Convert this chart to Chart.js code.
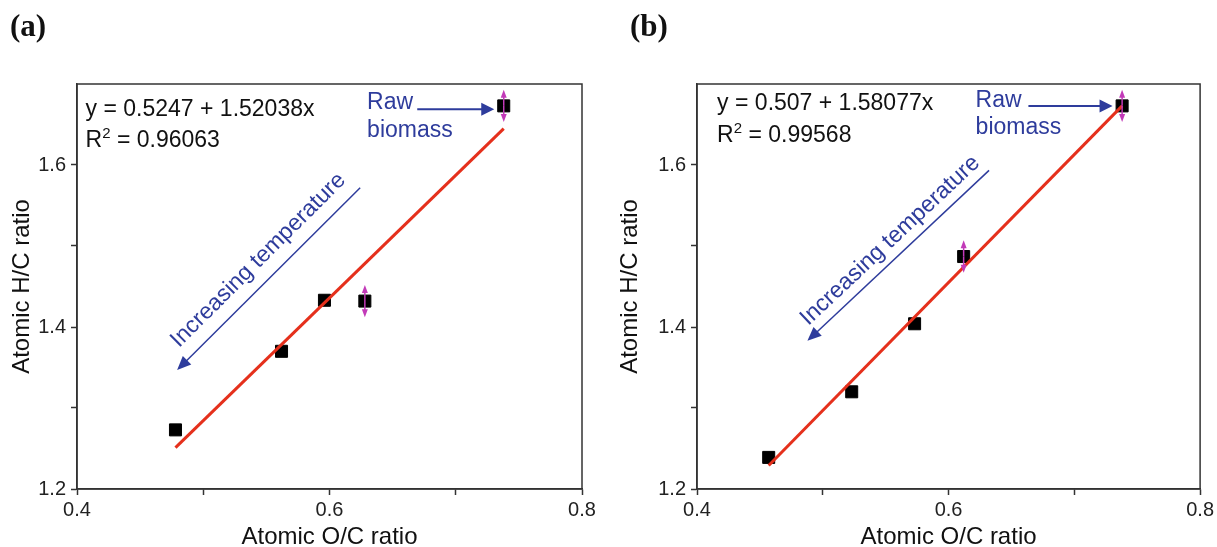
<!DOCTYPE html>
<html>
<head>
<meta charset="utf-8">
<script src="https://cdn.jsdelivr.net/npm/chart.js@4.4.1/dist/chart.umd.min.js"></script>
<style>
  body { margin: 0; background: #fff; }
  #wrap { position: relative; width: 1217px; height: 547px; }
  canvas { position: absolute; top: 0; }
  #chartA { left: 0; }
  #chartB { left: 608px; }
</style>
</head>
<body>
<div id="wrap">
  <canvas id="chartA" width="608" height="547"></canvas>
  <canvas id="chartB" width="609" height="547"></canvas>
</div>
<script>
// panel (a)
const aOC = [0.478, 0.562, 0.596, 0.628, 0.738];
const aHC = [1.273, 1.370, 1.433, 1.432, 1.673];
const aErr = [0, 0, 0, 0.020, 0.020];
const aFitOC = [0.478, 0.738];
const aFitHC = [1.251, 1.645];

// panel (b)
const bOC = [0.457, 0.523, 0.573, 0.612, 0.738];
const bHC = [1.239, 1.320, 1.404, 1.487, 1.673];
const bErr = [0, 0, 0, 0.020, 0.020];
const bFitOC = [0.457, 0.738];
const bFitHC = [1.229, 1.673];

const xTickLabels = [0.4, 0.6, 0.8];
const yTickLabels = [1.2, 1.4, 1.6];

const FONT = '"Liberation Sans", Arial, sans-serif';
const BLUE = '#2e3c9c';
const RED = '#e5301c';
const MAGENTA = '#c23ab8';
const AXIS = '#333';

Chart.defaults.font.family = FONT;

// annotation placement, in data units
const notesA = {
    label: '(a)', labelX: 10,
    eq: 'y = 0.5247 + 1.52038x', r2: '0.96063',
    eqAt: [0.4068, 1.6604], r2At: [0.4068, 1.6222],
    rawAt: [0.6298, 1.6687], bioAt: [0.6298, 1.6345],
    rawArrow: [0.6695, 1.6687, 0.7305, 1.6687],
    tempArrow: [0.6243, 1.5720, 0.4793, 1.3468],
    tempAt: [0.5436, 1.4824],
};
const notesB = {
    label: '(b)', labelX: 22,
    eq: 'y = 0.507 + 1.58077x', r2: '0.99568',
    eqAt: [0.4160, 1.6674], r2At: [0.4160, 1.6284],
    rawAt: [0.6215, 1.6719], bioAt: [0.6215, 1.6378],
    rawArrow: [0.6635, 1.6728, 0.7304, 1.6728],
    tempArrow: [0.6322, 1.5934, 0.4878, 1.3829],
    tempAt: [0.5536, 1.5067],
};

const isLabelled = (list, v) => list.some((t) => Math.abs(t - v) < 1e-6);

const drawArrow = (ctx, x1, y1, x2, y2, head, half, lw, color) => {
    const a = Math.atan2(y2 - y1, x2 - x1);
    const c = Math.cos(a);
    const s = Math.sin(a);
    ctx.strokeStyle = color;
    ctx.fillStyle = color;
    ctx.lineWidth = lw;
    ctx.beginPath();
    ctx.moveTo(x1, y1);
    ctx.lineTo(x2 - head * 0.8 * c, y2 - head * 0.8 * s);
    ctx.stroke();
    ctx.beginPath();
    ctx.moveTo(x2, y2);
    ctx.lineTo(x2 - head * c + half * s, y2 - head * s - half * c);
    ctx.lineTo(x2 - head * c - half * s, y2 - head * s + half * c);
    ctx.closePath();
    ctx.fill();
};

const makeOverlay = (notes, xs, ys, errs) => ({
    id: 'overlay',
    afterDatasetsDraw(chart) {
        const { ctx, chartArea: area, scales: { x, y } } = chart;
        const px = (v) => x.getPixelForValue(v);
        const py = (v) => y.getPixelForValue(v);
        ctx.save();

        // box frame
        ctx.strokeStyle = AXIS;
        ctx.lineWidth = 1.5;
        ctx.strokeRect(area.left, area.top, area.width, area.height);

        // error bars as double arrows
        xs.forEach((v, i) => {
            if (!errs[i]) return;
            const cx = px(v);
            const cy = py(ys[i]);
            drawArrow(ctx, cx, cy, cx, py(ys[i] + errs[i]), 8, 3, 1.5, MAGENTA);
            drawArrow(ctx, cx, cy, cx, py(ys[i] - errs[i]), 8, 3, 1.5, MAGENTA);
        });

        // equation and R squared
        ctx.fillStyle = '#111';
        ctx.font = `23px ${FONT}`;
        ctx.textAlign = 'left';
        ctx.textBaseline = 'alphabetic';
        ctx.fillText(notes.eq, px(notes.eqAt[0]), py(notes.eqAt[1]));
        let rx = px(notes.r2At[0]);
        const ry = py(notes.r2At[1]);
        ctx.fillText('R', rx, ry);
        rx += ctx.measureText('R').width;
        ctx.font = `15px ${FONT}`;
        ctx.fillText('2', rx, ry - 9);
        rx += ctx.measureText('2').width;
        ctx.font = `23px ${FONT}`;
        ctx.fillText(` = ${notes.r2}`, rx, ry);

        // raw biomass
        ctx.fillStyle = BLUE;
        ctx.fillText('Raw', px(notes.rawAt[0]), py(notes.rawAt[1]));
        ctx.fillText('biomass', px(notes.bioAt[0]), py(notes.bioAt[1]));
        const r = notes.rawArrow;
        drawArrow(ctx, px(r[0]), py(r[1]), px(r[2]), py(r[3]), 13, 6.5, 2, BLUE);

        // increasing temperature
        const t = notes.tempArrow;
        const tx1 = px(t[0]), ty1 = py(t[1]), tx2 = px(t[2]), ty2 = py(t[3]);
        drawArrow(ctx, tx1, ty1, tx2, ty2, 14, 6, 1.5, BLUE);
        const ang = Math.atan2(ty1 - ty2, tx1 - tx2);
        ctx.save();
        ctx.translate(px(notes.tempAt[0]), py(notes.tempAt[1]));
        ctx.rotate(ang);
        ctx.fillStyle = BLUE;
        ctx.font = `23px ${FONT}`;
        ctx.textAlign = 'center';
        ctx.textBaseline = 'middle';
        ctx.fillText('Increasing temperature', 0, 0);
        ctx.restore();

        // panel label
        ctx.fillStyle = '#111';
        ctx.font = `bold 31px "Liberation Serif", "Times New Roman", serif`;
        ctx.textAlign = 'left';
        ctx.textBaseline = 'alphabetic';
        ctx.fillText(notes.label, notes.labelX, 36);

        ctx.restore();
    },
});

const makeChart = (id, xs, ys, errs, fitX, fitY, notes, axisW, padRight) => {
    const points = xs.map((v, i) => ({ x: v, y: ys[i] }));
    const fit = fitX.map((v, i) => ({ x: v, y: fitY[i] }));

    return new Chart(document.getElementById(id), {
        type: 'scatter',
        data: {
            datasets: [
                {
                    data: fit,
                    showLine: true,
                    borderColor: RED,
                    borderWidth: 3,
                    pointRadius: 0,
                },
                {
                    data: points,
                    pointStyle: 'rect',
                    pointRadius: 8.5,
                    backgroundColor: '#000',
                    borderColor: '#000',
                    borderWidth: 1,
                },
            ],
        },
        options: {
            responsive: false,
            animation: false,
            devicePixelRatio: 1,
            layout: { padding: { top: 84, right: padRight, left: 0, bottom: 0 } },
            plugins: { legend: { display: false }, tooltip: { enabled: false } },
            scales: {
                x: {
                    type: 'linear',
                    min: 0.4,
                    max: 0.8,
                    ticks: {
                        stepSize: 0.1,
                        autoSkip: false,
                        maxRotation: 0,
                        padding: 3,
                        color: '#222',
                        font: { size: 20 },
                        callback: (v) => (isLabelled(xTickLabels, v) ? v.toFixed(1) : ''),
                    },
                    grid: { drawOnChartArea: false, tickLength: 6, tickWidth: 1.5, tickColor: AXIS },
                    border: { display: true, color: AXIS, width: 1.5 },
                    title: {
                        display: true,
                        text: 'Atomic O/C ratio',
                        color: '#111',
                        font: { size: 24, lineHeight: 1 },
                        padding: { top: 0, bottom: -2 },
                    },
                    afterFit: (s) => { s.height = 58; },
                },
                y: {
                    type: 'linear',
                    min: 1.2,
                    max: 1.7,
                    ticks: {
                        stepSize: 0.1,
                        autoSkip: false,
                        padding: 5,
                        color: '#222',
                        font: { size: 20 },
                        callback: (v) => (isLabelled(yTickLabels, v) ? v.toFixed(1) : ''),
                    },
                    grid: {
                        drawOnChartArea: false,
                        tickLength: 6,
                        tickWidth: 1.5,
                        tickColor: (c) => (c.tick && c.tick.value > 1.69 ? 'rgba(0,0,0,0)' : AXIS),
                    },
                    border: { display: true, color: AXIS, width: 1.5 },
                    title: {
                        display: true,
                        text: 'Atomic H/C ratio',
                        color: '#111',
                        font: { size: 24, lineHeight: 1 },
                        padding: 10,
                    },
                    afterFit: (s) => { s.width = axisW; },
                },
            },
        },
        plugins: [makeOverlay(notes, xs, ys, errs)],
    });
};

makeChart('chartA', aOC, aHC, aErr, aFitOC, aFitHC, notesA, 77, 26);
makeChart('chartB', bOC, bHC, bErr, bFitOC, bFitHC, notesB, 89, 12);
</script>
</body>
</html>
